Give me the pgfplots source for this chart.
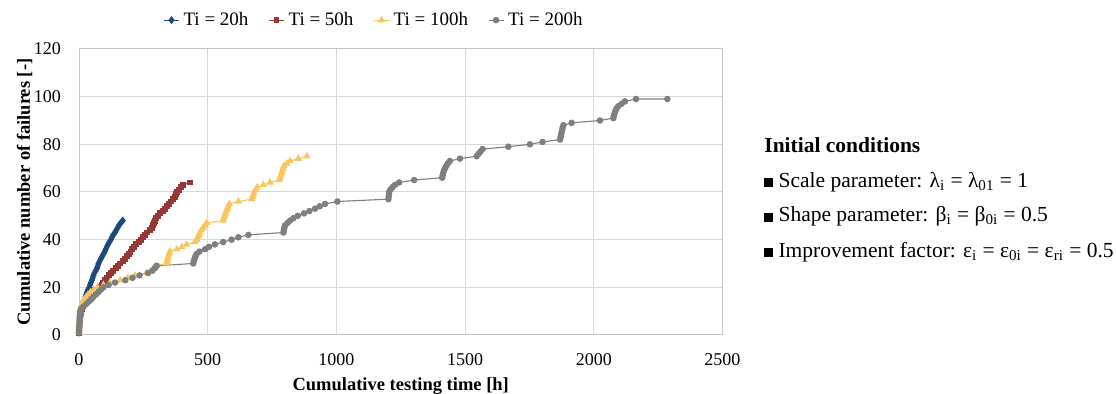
\documentclass[border=0pt]{standalone}
\usepackage{pgfplots}
\pgfplotsset{compat=1.18}
\usepackage{fontspec}
\setmainfont{Liberation Serif}

\definecolor{serBlue}{HTML}{1F497D}
\definecolor{serRed}{HTML}{953735}
\definecolor{serYellow}{HTML}{F9C55E}
\definecolor{serGray}{HTML}{7F7F7F}

\newcommand{\sqbullet}{\rule{4.4pt}{4.4pt}}

\begin{document}
\begin{tikzpicture}
\path[use as bounding box] (0,0) rectangle (558pt,197pt);
\begin{axis}[
  at={(39.5pt,29.5pt)}, anchor=south west,
  scale only axis, width=321.75pt, height=143pt,
  xmin=0, xmax=2500, ymin=0, ymax=120,
  xtick={0,500,...,2500}, ytick={0,20,...,120},
  grid=major, major grid style={draw=gray!30, line width=0.5pt},
  axis line style={draw=gray!45, line width=0.5pt},
  major tick length=0pt,
  /pgf/number format/assume math mode=true,
  /pgf/number format/1000 sep={},
  tick label style={font=\fontsize{9}{11}\selectfont},
  xticklabel style={yshift=-5.8pt},
  yticklabel style={xshift=-5.5pt},
  xlabel={Cumulative testing time [h]},
  ylabel={Cumulative number of failures [-]},
  label style={font=\fontsize{9.25}{11}\selectfont\bfseries},
  xlabel style={at={(axis description cs:0.5,0)}, anchor=base, yshift=-28pt},
  ylabel style={at={(axis description cs:0,0.5)}, anchor=base, yshift=24.5pt},
  legend columns=4,
  legend style={at={(axis description cs:0.46,1.101)}, anchor=center, draw=none,
    font=\fontsize{9.5}{11}\selectfont, inner sep=0pt,
    /tikz/every even column/.append style={column sep=8pt}},
  legend image code/.code={\draw[mark repeat=2,mark phase=2,#1] plot coordinates {(0pt,0pt) (3.75pt,0pt) (7.5pt,0pt)};},
  every axis plot/.append style={line width=0.55pt},
]
% Ti = 20h
\addplot[serBlue, mark=diamond*, mark size=1.6pt, mark options={solid, fill=serBlue}] coordinates {
(0,1)(0.5,2)(1,3)(2,4)(3,5)(4,6)(5,7)(7,8)(9,9)(11,10)(13,11)(15,12)(18,13)(20,14)(22,15)(25,16)(28,17)(31,18)(35,19)(40,20)(43,21)(46,22)(50,23)(53,24)(56,25)(60,26)(65,27)(70,28)(73,29)(76,30)(80,31)(85,32)(90,33)(95,34)(100,35)(104,36)(108,37)(113,38)(118,39)(124,40)(128,41)(133,42)(140,43)(145,44)(150,45)(155,46)(162,47)(170,48)
};
\addlegendentry{Ti = 20h}
% Ti = 50h
\addplot[serRed, mark=square*, mark size=1.2pt, mark options={solid, fill=serRed}] coordinates {
(0.5,1)(1,2)(1.5,3)(2,4)(3,5)(4,6)(5,7)(6,8)(7,9)(8,10)(10,11)(13,12)(17,13)(22,14)(28,15)(35,16)(42,17)(52,18)(62,19)(80,20)(88,21)(92,22)(100,23)(108,24)(115,25)(125,26)(133,27)(145,28)(152,29)(160,30)(170,31)(178,32)(185,33)(195,34)(200,35)(205,36)(212,37)(220,38)(232,39)(240,40)(248,41)(255,42)(265,43)(275,44)(283,45)(288,46)(292,47)(296,48)(300,49)(306,50)(315,51)(325,52)(333,53)(342,54)(350,55)(357,56)(365,57)(372,58)(376,59)(382,60)(388,61)(395,62)(405,63)(430,64)
};
\addlegendentry{Ti = 50h}
% Ti = 100h
\addplot[serYellow, mark=triangle*, mark size=1.6pt, mark options={solid, fill=serYellow}] coordinates {
(0,1)(0.3,2)(0.6,3)(1,4)(1.5,5)(2,6)(2.5,7)(3,8)(4,9)(5,10)(6,11)(8,12)(11,13)(15,14)(20,15)(27,16)(35,17)(45,18)(58,19)(72,20)(95,21)(120,22)(160,23)(190,24)(218,25)(262,26)(280,27)(289,28)(296,29)(341,30)(343,31)(345,32)(347,33)(350,34)(353,35)(380,36)(400,37)(418,38)(450,39)(458,40)(462,41)(466,42)(470,43)(476,44)(482,45)(490,46)(496,47)(560,48)(563,49)(566,50)(569,51)(572,52)(576,53)(580,54)(584,55)(619,56)(671,57)(674,58)(677,59)(681,60)(686,61)(693,62)(716,63)(742,64)(778,65)(781,66)(784,67)(787,68)(790,69)(793,70)(796,71)(808,72)(820,73)(852,74)(885,75)
};
\addlegendentry{Ti = 100h}
% Ti = 200h
\addplot[serGray, mark=*, mark size=1.35pt, mark options={solid, fill=serGray}] coordinates {
(0,1)(0.5,2)(1,3)(1.5,4)(2,5)(2.5,6)(3,7)(3.5,8)(4,9)(5,10)(8,11)(18,12)(28,13)(38,14)(48,15)(56,16)(66,17)(76,18)(85,19)(95,20)(115,21)(140,22)(180,23)(208,24)(235,25)(268,26)(285,27)(295,28)(302,29)(444,30)(446,31)(449,32)(452,33)(457,34)(468,35)(490,36)(505,37)(528,38)(560,39)(593,40)(619,41)(658,42)(794,43)(796,44)(798,45)(800,46)(810,47)(820,48)(833,49)(850,50)(874,51)(895,52)(917,53)(935,54)(956,55)(1004,56)(1202,57)(1203,58)(1204,59)(1205,60)(1210,61)(1218,62)(1228,63)(1244,64)(1302,65)(1411,66)(1413,67)(1415,68)(1418,69)(1422,70)(1427,71)(1433,72)(1441,73)(1480,74)(1545,75)(1552,76)(1560,77)(1568,78)(1668,79)(1752,80)(1801,81)(1869,82)(1871,83)(1873,84)(1875,85)(1877,86)(1879,87)(1882,88)(1914,89)(2024,90)(2076,91)(2078,92)(2081,93)(2084,94)(2088,95)(2095,96)(2108,97)(2121,98)(2164,99)(2286,99)
};
\addlegendentry{Ti = 200h}
\end{axis}

% Initial conditions panel
\begin{scope}[every node/.style={anchor=base west, inner sep=0pt, font=\fontsize{10.75}{13}\selectfont}]
\node at (382pt,120.65pt) {\bfseries Initial conditions};
\node at (382pt,103.35pt) {\sqbullet\ Scale parameter: λ\textsubscript{i} = λ\textsubscript{01} = 1};
\node at (382pt,86.15pt) {\sqbullet\ Shape parameter: β\textsubscript{i} = β\textsubscript{0i} = 0.5};
\node at (382pt,68.35pt) {\sqbullet\ Improvement factor: ε\textsubscript{i} = ε\textsubscript{0i} = ε\textsubscript{ri} = 0.5};
\end{scope}
\end{tikzpicture}
\end{document}
